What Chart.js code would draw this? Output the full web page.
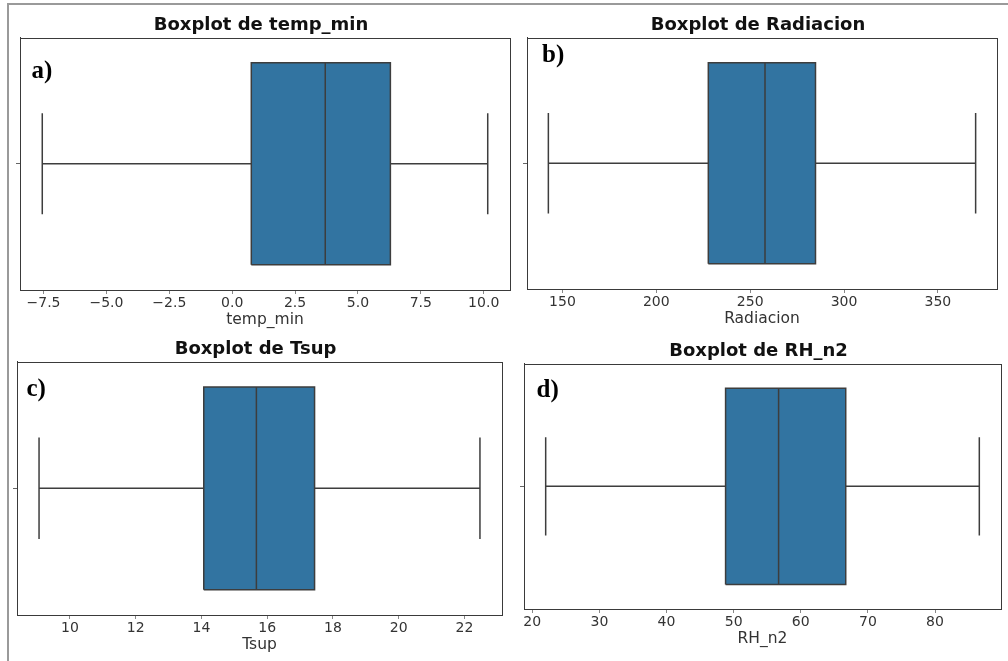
<!DOCTYPE html>
<html>
<head>
<meta charset="utf-8">
<title>Boxplots</title>
<script src="https://cdn.jsdelivr.net/npm/chart.js@4.4.1/dist/chart.umd.min.js"></script>
<style>
  html, body { margin: 0; padding: 0; background: #fff; }
  body { width: 1008px; height: 661px; position: relative; overflow: hidden; }
  .sheet {
    position: absolute; left: 7px; top: 3px; right: 0; bottom: 0;
    border-top: 2px solid #9a9a9a; border-left: 2px solid #9a9a9a;
  }
  canvas { position: absolute; }
</style>
</head>
<body>
<div class="sheet"></div>
<canvas id="panel0"></canvas>
<canvas id="panel1"></canvas>
<canvas id="panel2"></canvas>
<canvas id="panel3"></canvas>
<script>
// five-number summaries, one entry per variable
const variables = ['temp_min', 'Radiacion', 'Tsup', 'RH_n2'];
const panelTags = ['a)', 'b)', 'c)', 'd)'];
const whiskerLow = [-7.55, 142.5, 9.06, 22.0];
const q1 = [0.76, 227.7, 14.07, 48.8];
const medians = [3.70, 257.9, 15.67, 56.7];
const q3 = [6.29, 284.8, 17.44, 66.7];
const whiskerHigh = [10.16, 370.1, 22.47, 86.6];

// x tick values and decimals shown on each axis
const xTicks = [
  [-7.5, -5, -2.5, 0, 2.5, 5, 7.5, 10],
  [150, 200, 250, 300, 350],
  [10, 12, 14, 16, 18, 20, 22],
  [20, 30, 40, 50, 60, 70, 80]
];
const tickDecimals = [1, 0, 0, 0];

// plot area of each panel on the page [left, top, right, bottom] and tag offset
const layout = [
  { area: [19.5, 38, 510, 290], tag: [11.5, 40] },
  { area: [527.3, 37.7, 996.7, 289.3], tag: [15, 24] },
  { area: [16.7, 361.7, 502.3, 615], tag: [9.5, 34] },
  { area: [524.3, 364.3, 1001, 609], tag: [12.5, 33] }
];

const BOX_FILL = '#3274a1';
const LINE = '#3d3d3d';
const HALF_BOX = 0.4;
const HALF_CAP = 0.2;

function segment(pts, extra) {
  return Object.assign({
    data: pts.map(p => ({ x: p[0], y: p[1] })),
    showLine: true,
    borderColor: LINE,
    borderWidth: 1.5,
    pointRadius: 0,
    fill: false,
    order: 0
  }, extra || {});
}

// draws the full axes frame and the panel letter
const framePlugin = {
  id: 'frame',
  afterDatasetsDraw(chart, args, opts) {
    const { ctx, chartArea: a } = chart;
    ctx.save();
    ctx.strokeStyle = '#3a3a3a';
    ctx.lineWidth = 1;
    ctx.strokeRect(Math.round(a.left) + 0.5, Math.round(a.top) + 0.5,
      Math.round(a.right - a.left), Math.round(a.bottom - a.top));
    ctx.fillStyle = '#000';
    ctx.font = 'bold 25px "Liberation Serif", "Times New Roman", serif';
    ctx.textBaseline = 'alphabetic';
    ctx.fillText(opts.tag, a.left + opts.dx, a.top + opts.dy);
    ctx.restore();
  }
};

variables.forEach((name, i) => {
  const [L, T, R, B] = layout[i].area;
  const cl = Math.round(L) - 8;
  const ct = Math.round(T) - 23;
  const cw = Math.round(R) - cl + 2;
  const ch = Math.round(B) - ct + 40;
  const canvas = document.getElementById('panel' + i);
  canvas.width = cw;
  canvas.height = ch;
  canvas.style.left = cl + 'px';
  canvas.style.top = ct + 'px';

  const lo = whiskerLow[i], hi = whiskerHigh[i];
  const margin = (hi - lo) * 0.05;

  const datasets = [
    // box body: filled between the top and bottom edges
    segment([[q1[i], HALF_BOX], [q3[i], HALF_BOX]],
      { borderWidth: 0, fill: '+1', backgroundColor: BOX_FILL, order: 5 }),
    segment([[q1[i], -HALF_BOX], [q3[i], -HALF_BOX]],
      { borderWidth: 0, order: 5 }),
    // box outline
    segment([[q1[i], -HALF_BOX], [q3[i], -HALF_BOX], [q3[i], HALF_BOX],
      [q1[i], HALF_BOX], [q1[i], -HALF_BOX]]),
    // median
    segment([[medians[i], -HALF_BOX], [medians[i], HALF_BOX]]),
    // whiskers
    segment([[lo, 0], [q1[i], 0]]),
    segment([[q3[i], 0], [hi, 0]]),
    // caps
    segment([[lo, -HALF_CAP], [lo, HALF_CAP]]),
    segment([[hi, -HALF_CAP], [hi, HALF_CAP]])
  ];

  new Chart(canvas, {
    type: 'scatter',
    data: { datasets },
    options: {
      responsive: false,
      animation: false,
      layout: { padding: { left: 0, right: 2, top: 0, bottom: 0 } },
      scales: {
        x: {
          type: 'linear',
          min: lo - margin,
          max: hi + margin,
          afterBuildTicks: s => { s.ticks = xTicks[i].map(v => ({ value: v })); },
          afterFit: s => { s.height = 40; },
          ticks: {
            padding: 1,
            color: '#333',
            font: { family: 'DejaVu Sans', size: 14 },
            maxRotation: 0,
            autoSkip: false,
            callback: v => Number(v).toFixed(tickDecimals[i]).replace('-', '\u2212')
          },
          grid: { drawOnChartArea: false, tickLength: 4, tickColor: '#888' },
          border: { display: true, color: '#3a3a3a', width: 1 },
          title: {
            display: true,
            text: name,
            color: '#333',
            font: { family: 'DejaVu Sans', size: 15.5 },
            padding: { top: 0, bottom: 1 }
          }
        },
        y: {
          type: 'linear',
          min: -0.5,
          max: 0.5,
          afterBuildTicks: s => { s.ticks = [{ value: 0 }]; },
          afterFit: s => { s.width = 8; },
          ticks: { padding: 0, callback: () => '' },
          grid: { drawOnChartArea: false, tickLength: 4, tickColor: '#666' },
          border: { display: true, color: '#3a3a3a', width: 1 }
        }
      },
      plugins: {
        legend: { display: false },
        tooltip: { enabled: false },
        title: {
          display: true,
          text: 'Boxplot de ' + name,
          color: '#111',
          font: { family: 'DejaVu Sans', size: 18, weight: 'bold' },
          padding: { top: 0, bottom: 1 }
        },
        frame: { tag: panelTags[i], dx: layout[i].tag[0], dy: layout[i].tag[1] }
      }
    },
    plugins: [framePlugin]
  });
});
</script>
</body>
</html>
